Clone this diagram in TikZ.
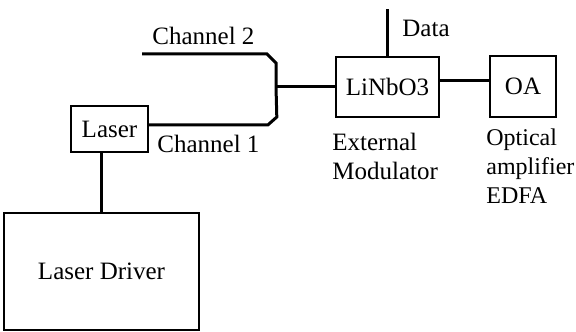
\documentclass[tikz,border=0pt]{standalone}
\usepackage{fontspec}
\setmainfont{Liberation Serif}
\usepackage{tikz}
\tikzset{every picture/.append style={x=0.5pt, y=-0.5pt}}
\tikzset{
    unit/.style={draw, line width=0.8pt, inner sep=0pt, font=\fontsize{12.5}{14.5}\selectfont},
    fiber/.style={line width=1.5pt},
    tag/.style={inner sep=0pt, align=left, font=\fontsize{12.5}{14.5}\selectfont}
}

\begin{document}
\begin{tikzpicture}
  \useasboundingbox (0,0) rectangle (576,331);
  \node (laser) [unit, minimum width=38.5pt, minimum height=23pt] at (109.5,129) {Laser};
  \node (drv) [unit, minimum width=97.5pt, minimum height=58.5pt] at (101.5,271.5) {Laser Driver};
  \node (mod) [unit, minimum width=51.5pt, minimum height=30pt] at (387.5,87) {LiNbO3};
  \node (oa) [unit, minimum width=33pt, minimum height=30.5pt] at (523,86.5) {OA};
  \coordinate (ch2in) at (142,54);
  \coordinate (join) at (276,87);
  \coordinate (datain) at (387.5,9);

  \node (ch2tag) [tag, anchor=base west] at (152,45) {Channel 2};
  \node (ch1tag) [tag, anchor=base west] at (157,152) {Channel 1};
  \node (datatag) [tag, anchor=base west] at (402,37) {Data};
  \node (modtag) [tag, anchor=north west] at (332,133) {External\\Modulator};
  \node (oatag) [tag, anchor=north west, font=\fontsize{12}{14.5}\selectfont] at (486,128) {Optical\\amplifier\\EDFA};

  \draw[fiber] (drv.north) -- (drv.north |- laser.south);
  \draw[fiber] ([yshift=2pt]laser.east) -- ++(119,0) -- ++(9,-8) -- (join);
  \draw[fiber] (ch2in) -- ++(125,0) -- ++(9,9) -- (join);
  \draw[fiber] (join) -- (join -| mod.west);
  \draw[fiber] ([yshift=3pt]mod.east) -- ([yshift=3pt]mod.east -| oa.west);
  \draw[fiber] (mod.north) -- (datain);
\end{tikzpicture}
\end{document}
